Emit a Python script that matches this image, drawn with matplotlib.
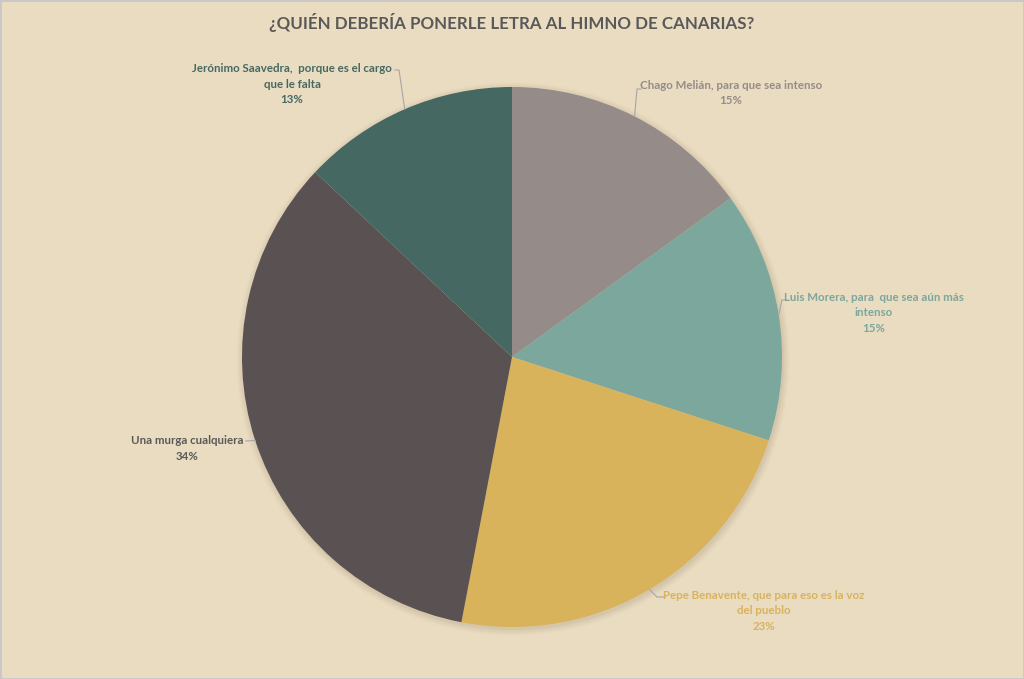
import matplotlib.pyplot as plt
import numpy as np

# data
labels = [
    "Chago Melián, para que sea intenso",
    "Luis Morera, para  que sea aún más\nintenso",
    "Pepe Benavente, que para eso es la voz\ndel pueblo",
    "Una murga cualquiera",
    "Jerónimo Saavedra,  porque es el cargo\nque le falta",
]
percent = [15, 15, 23, 34, 13]

colors = ["#958b89", "#7ba79d", "#d9b35c", "#5a5152", "#456962"]
text_colors = ["#958b89", "#7ba79d", "#d9b35c", "#595959", "#456962"]
bg = "#eadcc1"

# label layout, pixel coords (x center, y first line) and leader elbow
label_pos = [(731, 86), (874, 298), (764, 596), (187, 441), (292, 69)]
elbows = [(637, 89), (782, 300), (657, 597), (246, 441), (399, 70)]
leads = [(641, 89), (786, 300), (665, 597), (246, 441), (395, 70)]

H = 679
plt.rcParams['font.family'] = ['Lato', 'DejaVu Sans']

fig = plt.figure(figsize=(10.24, 6.79), dpi=100)
fig.patch.set_facecolor(bg)
ax = fig.add_axes([0, 0, 1, 1])

cx, cy, r = 512, H - 357, 270

# soft shadow
for i, a in enumerate(np.linspace(0.05, 0.012, 6)):
    ax.add_patch(plt.Circle((cx + 1, cy - 2), r + 1 + i * 1.2, color="#7a6a50",
                            alpha=a, lw=0, zorder=1))

wedges, _ = ax.pie(percent, colors=colors, startangle=90, counterclock=False,
                   center=(cx, cy), radius=r, frame=True,
                   wedgeprops=dict(linewidth=0, zorder=2))
ax.set_xlim(0, 1024)
ax.set_ylim(0, H)
ax.set_aspect('auto')
ax.axis('off')

for w, lab, p, tc, (lx, ly), (ex, ey), (sx, sy) in zip(
        wedges, labels, percent, text_colors, label_pos, elbows, leads):
    ang = np.deg2rad((w.theta1 + w.theta2) / 2)
    px, py = cx + r * np.cos(ang), cy + r * np.sin(ang)
    ax.plot([px, ex, sx], [py, H - ey, H - sy], color="#a6a6a6", lw=0.8, zorder=3)
    ax.text(lx, H - ly + 6, f"{lab}\n{p}%", ha='center', va='top', color=tc,
            fontsize=8.3, fontweight='bold', linespacing=1.5)

fig.text(0.5, 1 - 22 / H, "¿QUIÉN DEBERÍA PONERLE LETRA AL HIMNO DE CANARIAS?",
         ha='center', va='center', fontsize=12.2, fontweight='bold', color="#595959")

fig.patches.append(plt.Rectangle((0, 0), 1, 1, transform=fig.transFigure,
                                 fill=False, edgecolor="#c8c8c8", lw=2))
fig.savefig("out.png", dpi=100, facecolor=bg)
